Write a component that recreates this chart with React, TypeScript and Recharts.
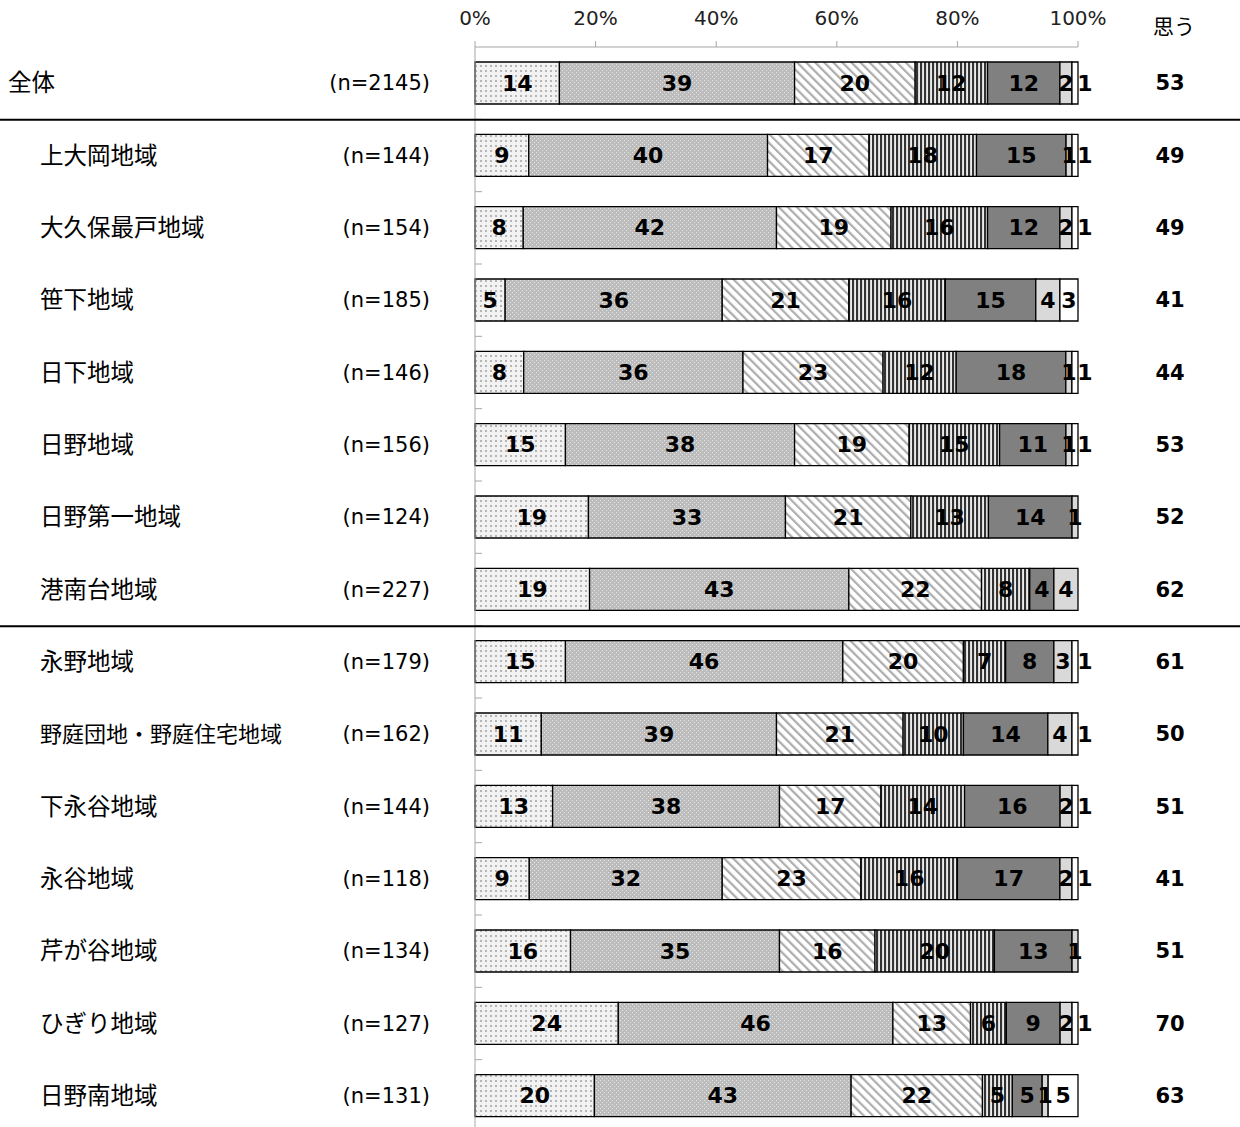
import React from "react";
import { BarChart, Bar, XAxis, YAxis, LabelList } from "recharts";

// 地域別 回答割合（100%積み上げ横棒）
const categories = [
  "全体",
  "上大岡地域",
  "大久保最戸地域",
  "笹下地域",
  "日下地域",
  "日野地域",
  "日野第一地域",
  "港南台地域",
  "永野地域",
  "野庭団地・野庭住宅地域",
  "下永谷地域",
  "永谷地域",
  "芹が谷地域",
  "ひぎり地域",
  "日野南地域",
];
const nCounts = [2145, 144, 154, 185, 146, 156, 124, 227, 179, 162, 144, 118, 134, 127, 131];

// 各回答の割合（%）
const s1 = [14, 9, 8, 5, 8, 15, 19, 19, 15, 11, 13, 9, 16, 24, 20];
const s2 = [39, 40, 42, 36, 36, 38, 33, 43, 46, 39, 38, 32, 35, 46, 43];
const s3 = [20, 17, 19, 21, 23, 19, 21, 22, 20, 21, 17, 23, 16, 13, 22];
const s4 = [12, 18, 16, 16, 12, 15, 13, 8, 7, 10, 14, 16, 20, 6, 5];
const s5 = [12, 15, 12, 15, 18, 11, 14, 4, 8, 14, 16, 17, 13, 9, 5];
const s6 = [2, 1, 2, 4, 1, 1, 1, 4, 3, 4, 2, 2, 1, 2, 1];
const s7 = [1, 1, 1, 3, 1, 1, 0, 0, 1, 1, 1, 1, 0, 1, 5];
// 「思う」計
const omou = [53, 49, 49, 41, 44, 53, 52, 62, 61, 50, 51, 41, 51, 70, 63];

// 区切り線を引く行
const groupEnds = ["全体", "港南台地域"];

const xTicks = [0, 0.2, 0.4, 0.6, 0.8, 1];

const data = categories.map((name, i) => ({
  name,
  s1: s1[i],
  s2: s2[i],
  s3: s3[i],
  s4: s4[i],
  s5: s5[i],
  s6: s6[i],
  s7: s7[i],
}));

const W = 1240;
const H = 1135;
const TOP = 47;
const BOTTOM = 3;
const BAND_HALF = (H - TOP - BOTTOM) / categories.length / 2;

const CJK = '"Noto Sans CJK JP", sans-serif';
const LAT = '"DejaVu Sans", sans-serif';

const RowTick = (props: any) => {
  const { y, payload } = props;
  const name = payload.value as string;
  const i = categories.indexOf(name);
  return (
    <g>
      <text x={i === 0 ? 8 : 40} y={y - 2} dominantBaseline="central" fontSize={name.length > 8 ? 22 : 23.5} fontFamily={CJK} fill="#000">
        {name}
      </text>
      <text x={430} y={y} dominantBaseline="central" textAnchor="end" fontSize={21} fontFamily={LAT} fill="#000">
        (n={nCounts[i]})
      </text>
      <line x1={475} x2={482} y1={y + BAND_HALF} y2={y + BAND_HALF} stroke="#a6a6a6" strokeWidth={1} />
      {groupEnds.includes(name) && (
        <line x1={0} x2={W} y1={y + BAND_HALF + 0.5} y2={y + BAND_HALF + 0.5} stroke="#000" strokeWidth={2} />
      )}
      <text x={1170} y={y} dominantBaseline="central" textAnchor="middle" fontSize={21} fontWeight="bold" fontFamily={LAT} fill="#000">
        {omou[i]}
      </text>
    </g>
  );
};

const makeLabel = (last: boolean) => (props: any) => {
  const { x, y, width, height, value } = props;
  if (!value) return null;
  const cx = last && value <= 1 ? x + width + 7 : x + width / 2;
  return (
    <text x={cx} y={y + height / 2} dominantBaseline="central" textAnchor="middle" fontSize={22} fontWeight="bold" fontFamily={LAT} fill="#000">
      {value}
    </text>
  );
};

const keys = ["s1", "s2", "s3", "s4", "s5", "s6", "s7"];
const fills = ["url(#p1)", "url(#p2)", "url(#p3)", "url(#p4)", "#808080", "#d9d9d9", "#ffffff"];

const App: React.FC = () => {
  return (
    <div style={{ position: "absolute", left: 0, top: 0, width: W, height: 1127, overflow: "hidden", background: "#fff" }}>
      <div style={{ position: "absolute", left: 1153, top: 15, fontSize: 21, lineHeight: "21px", fontFamily: CJK, color: "#000" }}>思う</div>
      <BarChart width={W} height={H} data={data} layout="vertical" stackOffset="expand" margin={{ top: 0, right: 162, bottom: BOTTOM, left: 0 }}>
        <defs>
          <pattern id="p1" patternUnits="userSpaceOnUse" width={5} height={5}>
            <rect width={5} height={5} fill="#f2f2f2" />
            <rect x={0} y={0} width={2} height={2} fill="#b5b5b5" />
          </pattern>
          <pattern id="p2" patternUnits="userSpaceOnUse" width={4} height={4}>
            <rect width={4} height={4} fill="#bcbcbc" />
            <rect x={0} y={0} width={1} height={1} fill="#e6e6e6" />
            <rect x={2} y={2} width={1} height={1} fill="#e6e6e6" />
          </pattern>
          <pattern id="p3" patternUnits="userSpaceOnUse" width={6.4} height={10} patternTransform="rotate(-45)">
            <rect width={6.4} height={10} fill="#ffffff" />
            <rect x={0} y={0} width={2.2} height={10} fill="#adadad" />
          </pattern>
          <pattern id="p4" patternUnits="userSpaceOnUse" width={4} height={4}>
            <rect width={4} height={4} fill="#ececec" />
            <rect x={0} y={0} width={2.1} height={4} fill="#333333" />
          </pattern>
        </defs>
        <XAxis
          type="number"
          orientation="top"
          domain={[0, 1]}
          ticks={xTicks}
          tickFormatter={(v: number) => `${Math.round(v * 100)}%`}
          height={TOP}
          tickSize={6}
          tickMargin={16}
          axisLine={{ stroke: "#a6a6a6" }}
          tickLine={{ stroke: "#a6a6a6" }}
          tick={{ fontSize: 20, fill: "#222", fontFamily: LAT }}
        />
        <YAxis
          type="category"
          dataKey="name"
          width={475}
          interval={0}
          axisLine={{ stroke: "#a6a6a6" }}
          tickLine={false}
          tick={<RowTick />}
        />
        {keys.map((k, i) => (
          <Bar key={k} dataKey={k} stackId="a" fill={fills[i]} stroke="#000" strokeWidth={1.3} barSize={42} isAnimationActive={false}>
            <LabelList dataKey={k} content={makeLabel(i === 6)} />
          </Bar>
        ))}
      </BarChart>
    </div>
  );
};

export default App;
